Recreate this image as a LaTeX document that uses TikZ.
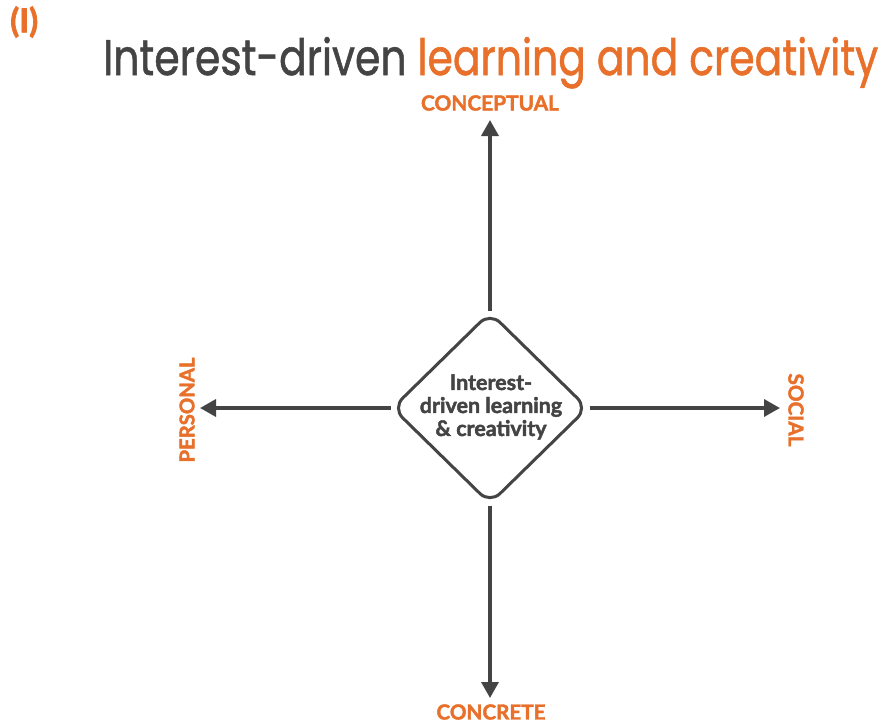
\documentclass[tikz,border=0pt]{standalone}
\usepackage{fontspec}
\setmainfont{Lato}
\newfontfamily\blackfont{Lato}[UprightFont=*-Bold,FakeBold=2]
\newfontfamily\titlefont{Poppins}[FakeBold=1.2]
\usetikzlibrary{arrows.meta,shapes.geometric}
\definecolor{dgray}{HTML}{444444}
\definecolor{orng}{HTML}{E8702A}
\begin{document}
\begin{tikzpicture}[x=1pt,y=-1pt,
  axis/.style={draw=dgray,line width=3.4pt,-{Triangle[length=16pt,width=17pt]}},
  lbl/.style={text=orng,font=\blackfont\fontsize{16}{18}\selectfont,inner sep=0pt},
  hub/.style={diamond,draw=dgray,line width=3pt,rounded corners=14pt,minimum width=196pt,minimum height=192pt,inner sep=0pt},
  hubtext/.style={align=center,inner sep=0pt,text=dgray,font=\blackfont\fontsize{21.5}{23}\selectfont}]
\useasboundingbox[fill=white] (0,0) rectangle (884,723);
\node[text=orng,font=\blackfont,anchor=west,inner sep=0pt] (num) at (10,22) {\resizebox{28pt}{!}{(I)}};
\node[anchor=base west,inner sep=0pt] (title) at (103,75) {\resizebox{775pt}{38pt}{\titlefont\fontsize{40}{44}\selectfont\textcolor{dgray}{Interest-driven} \textcolor{orng}{learning and creativity}}};
\node[hub] (c) at (490,408) {};
\node[hubtext] (ct) at (491,407) {Interest-\\driven learning\\\& creativity};
\coordinate (t) at (490,120);
\coordinate (b) at (490,698);
\coordinate (l) at (200,408);
\coordinate (r) at (780,408);
\draw[axis] (c.north) -- (t);
\draw[axis] (c.south) -- (b);
\draw[axis] (c.west) -- (l);
\draw[axis] (c.east) -- (r);
\node[lbl] (nc) at (490,103) {\resizebox{138pt}{!}{CONCEPTUAL}};
\node[lbl] (ncr) at (491,712) {\resizebox{109pt}{!}{CONCRETE}};
\node[lbl,rotate=90] (np) at (187,410) {\resizebox{105pt}{!}{PERSONAL}};
\node[lbl,rotate=-90] (ns) at (796,410) {\resizebox{73pt}{!}{SOCIAL}};
\end{tikzpicture}
\end{document}
